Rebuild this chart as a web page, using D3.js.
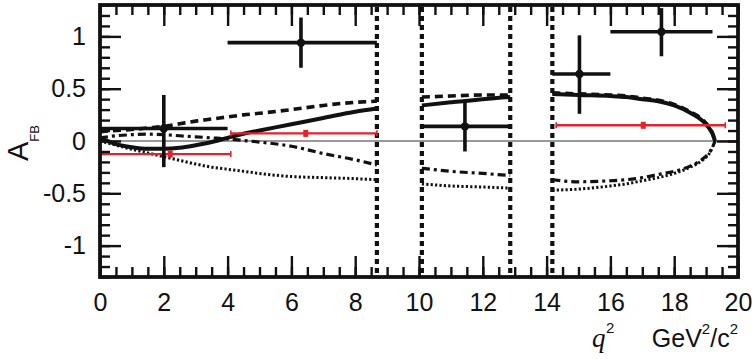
<!DOCTYPE html>
<html>
<head>
<meta charset="utf-8">
<script src="https://cdn.jsdelivr.net/npm/d3@7"></script>
<style>
  body { margin: 0; background: #fff; }
  text { font-family: "Liberation Sans", Arial, sans-serif; fill: #111; }
</style>
</head>
<body>
<svg id="chart" width="754" height="359"></svg>
<script>
// measured bins (black crosses)
const binLo = [0, 4.0, 10.09, 14.18, 16.0];
const binHi = [4.0, 8.68, 12.86, 16.0, 19.2];
const binQ2 = [2.0, 6.3, 11.44, 15.03, 17.6];
const binAfb = [0.12, 0.94, 0.14, 0.64, 1.045];
const binUp = [0.44, 1.18, 0.375, 1.01, 1.27];
const binDown = [-0.25, 0.70, -0.10, 0.26, 0.81];

// red points
const redLo = [0, 4.1, 14.3];
const redHi = [4.1, 8.68, 19.6];
const redQ2 = [2.2, 6.45, 17.03];
const redAfb = [-0.125, 0.073, 0.15];
const redErr = [0.02, 0.03, 0.025];

// charmonium veto edges
const vetoQ2 = [8.68, 10.09, 12.86, 14.18];

// theory curves, three q2 windows
const grid1 = [0, 0.5, 1, 1.5, 2, 2.5, 3, 3.5, 4, 4.5, 5, 6, 7, 8, 8.68];
const solid1 = [0.03, -0.03, -0.06, -0.075, -0.075, -0.065, -0.04, -0.01, 0.03, 0.07, 0.10, 0.16, 0.22, 0.28, 0.31];
const dashed1 = [0.09, 0.10, 0.11, 0.125, 0.14, 0.165, 0.19, 0.21, 0.23, 0.25, 0.265, 0.30, 0.34, 0.37, 0.38];
const dashdot1 = [0.03, 0.05, 0.06, 0.065, 0.06, 0.05, 0.04, 0.03, 0.02, 0.005, -0.01, -0.05, -0.12, -0.18, -0.23];
const dotted1 = [0.0, -0.04, -0.08, -0.115, -0.15, -0.185, -0.22, -0.25, -0.27, -0.29, -0.31, -0.34, -0.35, -0.36, -0.37];

const grid2 = [10.09, 11, 12, 12.86];
const solid2 = [0.34, 0.37, 0.40, 0.42];
const dashed2 = [0.42, 0.43, 0.44, 0.44];
const dashdot2 = [-0.26, -0.29, -0.31, -0.33];
const dotted2 = [-0.41, -0.43, -0.44, -0.45];

const grid3 = [14.18, 15, 16, 16.5, 17, 17.5, 18, 18.5, 18.9, 19.1, 19.2, 19.28];
const solid3 = [0.45, 0.44, 0.43, 0.42, 0.40, 0.38, 0.34, 0.27, 0.19, 0.12, 0.07, 0];
const dashed3 = [0.46, 0.45, 0.44, 0.43, 0.41, 0.39, 0.35, 0.28, 0.20, 0.13, 0.075, 0];
const dashdot3 = [-0.37, -0.39, -0.38, -0.37, -0.35, -0.32, -0.29, -0.24, -0.17, -0.11, -0.06, 0];
const dotted3 = [-0.47, -0.46, -0.43, -0.41, -0.38, -0.35, -0.31, -0.25, -0.18, -0.12, -0.06, 0];

const xMajor = [0, 2, 4, 6, 8, 10, 12, 14, 16, 18, 20];
const yMajor = [-1, -0.5, 0, 0.5, 1];

const svg = d3.select('#chart');
const plotL = 100, plotR = 738, plotT = 5, plotB = 277;
const x = d3.scaleLinear().domain([0, 20]).range([plotL, plotR]);
const y = d3.scaleLinear().domain([-1.3, 1.3]).range([plotB, plotT]);

svg.append('clipPath').attr('id', 'plot')
  .append('rect').attr('x', plotL).attr('y', plotT).attr('width', plotR - plotL).attr('height', plotB - plotT);

const plot = svg.append('g').attr('clip-path', 'url(#plot)');

// zero line
plot.append('line')
  .attr('x1', plotL).attr('x2', plotR).attr('y1', y(0)).attr('y2', y(0))
  .style('stroke', '#777').style('stroke-width', 1.6);

// veto lines
plot.selectAll('.veto').data(vetoQ2).enter().append('line')
  .attr('class', 'veto')
  .attr('x1', d => x(d)).attr('x2', d => x(d))
  .attr('y1', plotT + 2).attr('y2', plotB)
  .style('stroke', '#111').style('stroke-width', 4.2).style('stroke-dasharray', '5,4');

// theory curves
const line = d3.line().x(d => x(d[0])).y(d => y(d[1])).curve(d3.curveMonotoneX);
const styles = {
  solid: { w: 4, dash: null },
  dashed: { w: 3.6, dash: '8,5' },
  dashdot: { w: 3.2, dash: '8,4,3,4' },
  dotted: { w: 3, dash: '2.2,2.2' }
};
const curves = [
  [grid1, solid1, 'solid'], [grid1, dashed1, 'dashed'], [grid1, dashdot1, 'dashdot'], [grid1, dotted1, 'dotted'],
  [grid2, solid2, 'solid'], [grid2, dashed2, 'dashed'], [grid2, dashdot2, 'dashdot'], [grid2, dotted2, 'dotted'],
  [grid3, solid3, 'solid'], [grid3, dashed3, 'dashed'], [grid3, dashdot3, 'dashdot'], [grid3, dotted3, 'dotted']
];
curves.forEach(([g, v, kind]) => {
  plot.append('path')
    .attr('d', line(g.map((q, i) => [q, v[i]])))
    .style('fill', 'none')
    .style('stroke', '#111')
    .style('stroke-width', styles[kind].w)
    .style('stroke-dasharray', styles[kind].dash);
});

// red points
const red = '#e3222a';
const redG = plot.selectAll('.red').data(redQ2.map((q, i) => i)).enter().append('g').attr('class', 'red');
redG.append('line')
  .attr('x1', i => x(redLo[i])).attr('x2', i => x(redHi[i]))
  .attr('y1', i => y(redAfb[i])).attr('y2', i => y(redAfb[i]))
  .style('stroke', red).style('stroke-width', 2.4);
redG.append('line')
  .attr('x1', i => x(redQ2[i])).attr('x2', i => x(redQ2[i]))
  .attr('y1', i => y(redAfb[i] + redErr[i])).attr('y2', i => y(redAfb[i] - redErr[i]))
  .style('stroke', red).style('stroke-width', 2.4);
redG.append('rect')
  .attr('x', i => x(redQ2[i]) - 2.5).attr('y', i => y(redAfb[i]) - 3.5)
  .attr('width', 5).attr('height', 7)
  .style('fill', red);
redG.selectAll('.cap').data(i => [[redLo[i], redAfb[i]], [redHi[i], redAfb[i]]]).enter().append('line')
  .attr('x1', d => x(d[0])).attr('x2', d => x(d[0]))
  .attr('y1', d => y(d[1]) - 3).attr('y2', d => y(d[1]) + 3)
  .style('stroke', red).style('stroke-width', 1.6);

// black crosses
const ptG = plot.selectAll('.pt').data(binQ2.map((q, i) => i)).enter().append('g').attr('class', 'pt');
ptG.append('line')
  .attr('x1', i => x(binLo[i])).attr('x2', i => x(binHi[i]))
  .attr('y1', i => y(binAfb[i])).attr('y2', i => y(binAfb[i]))
  .style('stroke', '#111').style('stroke-width', 3.6);
ptG.append('line')
  .attr('x1', i => x(binQ2[i])).attr('x2', i => x(binQ2[i]))
  .attr('y1', i => y(binUp[i])).attr('y2', i => y(binDown[i]))
  .style('stroke', '#111').style('stroke-width', 3.6);
ptG.append('circle')
  .attr('cx', i => x(binQ2[i])).attr('cy', i => y(binAfb[i])).attr('r', 4.2)
  .style('fill', '#111');

// axes: ticks point inward on all four sides
const fmt = d => String(d);
const minorX = d3.range(0, 20.01, 0.5);
const minorY = d3.range(-13, 14).map(i => i / 10);

function styleAxis(g) {
  g.select('.domain').remove();
  g.selectAll('line').style('stroke', '#111').style('stroke-width', 2.4);
  g.selectAll('text').style('font-size', '25px').style('fill', '#111')
    .style('font-family', '"Liberation Sans", Arial, sans-serif');
}

svg.append('g').attr('transform', `translate(0,${plotB})`)
  .call(d3.axisBottom(x).tickValues(minorX).tickSizeInner(-10).tickSizeOuter(0).tickFormat(''))
  .call(styleAxis);
svg.append('g').attr('transform', `translate(0,${plotB})`)
  .call(d3.axisBottom(x).tickValues(xMajor).tickSizeInner(-21).tickSizeOuter(0).tickPadding(16).tickFormat(fmt))
  .call(styleAxis);
svg.append('g').attr('transform', `translate(0,${plotT})`)
  .call(d3.axisTop(x).tickValues(minorX).tickSizeInner(-10).tickSizeOuter(0).tickFormat(''))
  .call(styleAxis);
svg.append('g').attr('transform', `translate(0,${plotT})`)
  .call(d3.axisTop(x).tickValues(xMajor).tickSizeInner(-21).tickSizeOuter(0).tickFormat(''))
  .call(styleAxis);

svg.append('g').attr('transform', `translate(${plotL},0)`)
  .call(d3.axisLeft(y).tickValues(minorY).tickSizeInner(-10).tickSizeOuter(0).tickFormat(''))
  .call(styleAxis);
svg.append('g').attr('transform', `translate(${plotL},0)`)
  .call(d3.axisLeft(y).tickValues(yMajor).tickSizeInner(-21).tickSizeOuter(0).tickPadding(14).tickFormat(fmt))
  .call(styleAxis);
svg.append('g').attr('transform', `translate(${plotR},0)`)
  .call(d3.axisRight(y).tickValues(minorY).tickSizeInner(-10).tickSizeOuter(0).tickFormat(''))
  .call(styleAxis);
svg.append('g').attr('transform', `translate(${plotR},0)`)
  .call(d3.axisRight(y).tickValues(yMajor).tickSizeInner(-21).tickSizeOuter(0).tickFormat(''))
  .call(styleAxis);

// frame
svg.append('rect')
  .attr('x', plotL).attr('y', plotT).attr('width', plotR - plotL).attr('height', plotB - plotT)
  .style('fill', 'none').style('stroke', '#111').style('stroke-width', 3.8);

// y title A_FB
const yt = svg.append('text')
  .attr('transform', `translate(28,161) rotate(-90)`)
  .style('font-size', '29px');
yt.append('tspan').text('A');
yt.append('tspan').attr('dy', 11).style('font-size', '13px').text('FB');

// x title
svg.append('text')
  .attr('x', 592).attr('y', 347)
  .style('font-family', '"Liberation Serif", "Times New Roman", serif')
  .style('font-style', 'italic').style('font-size', '27px').text('q');
svg.append('text').attr('x', 606).attr('y', 333).style('font-size', '15px').text('2');
const xt = svg.append('text')
  .attr('x', plotR).attr('y', 347)
  .attr('text-anchor', 'end')
  .style('font-size', '25px');
xt.append('tspan').text('GeV');
xt.append('tspan').attr('dy', -13).style('font-size', '15px').text('2');
xt.append('tspan').attr('dy', 13).text('/c');
xt.append('tspan').attr('dy', -13).style('font-size', '15px').text('2');
</script>
</body>
</html>
